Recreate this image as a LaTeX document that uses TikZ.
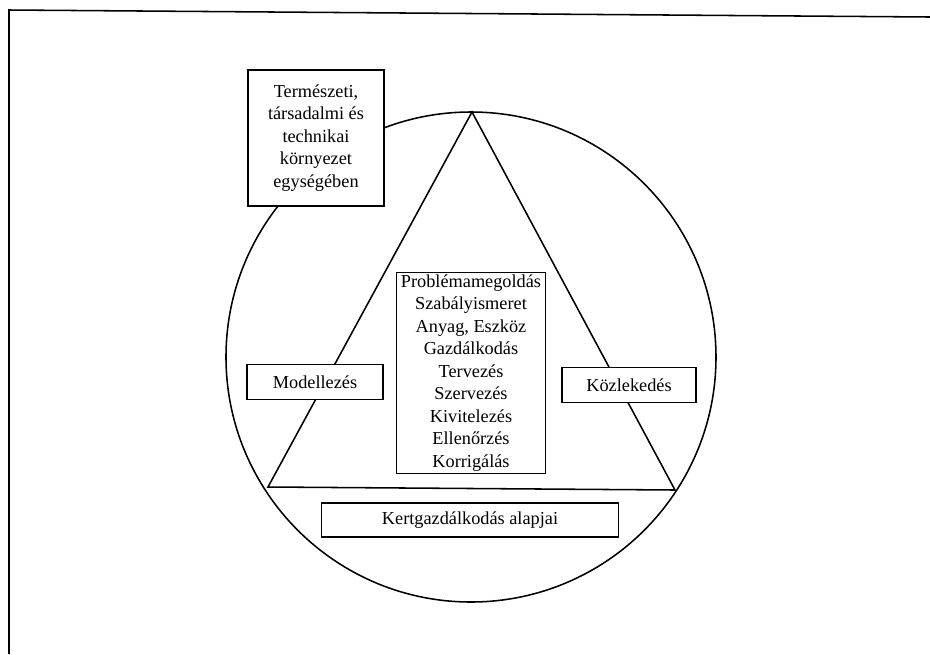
\documentclass[tikz,border=0pt]{standalone}
\usepackage{fontspec}
\setmainfont{Liberation Serif}
\usetikzlibrary{positioning}

\begin{document}
\begin{tikzpicture}[x=0.025cm, y=-0.025cm, line width=1.1pt, font=\fontsize{13}{16}\selectfont]
    % Define block styles
    \tikzstyle{block} = [draw, fill=white, rectangle, inner sep=1pt, align=center]
    \tikzstyle{corner} = [coordinate]

    \useasboundingbox (0,0) rectangle (930,654);

    % Frame
    \draw (930,17) -- (9,10) -- (9,654);

    % Circle and triangle
    \draw (471,357) circle [radius=245];
    \node [corner] (apex) at (472,112) {};
    \node [corner] (baseL) at (268,487) {};
    \node [corner] (baseR) at (675,490) {};
    \draw (apex) -- (baseL) -- (baseR) -- cycle;

    % Nodes
    \node [block, minimum width=3.4cm, minimum height=3.4cm] (env) at (316,138)
        {Természeti,\\társadalmi és\\technikai\\környezet\\egységében};
    \node [block, minimum width=3.4cm, minimum height=0.875cm] (model) at (315,382)
        {Modellezés};
    \node [block, minimum width=3.35cm, minimum height=0.875cm] (traffic) at (629,385)
        {Közlekedés};
    \node [block, minimum width=3.725cm, minimum height=5.025cm] (core) at (471,373)
        {Problémamegoldás\\Szabályismeret\\Anyag, Eszköz\\Gazdálkodás\\Tervezés\\Szervezés\\Kivitelezés\\Ellenőrzés\\Korrigálás};
    \node [block, minimum width=7.425cm, minimum height=0.85cm] (garden) at (470,520)
        {Kertgazdálkodás alapjai};
\end{tikzpicture}
\end{document}
